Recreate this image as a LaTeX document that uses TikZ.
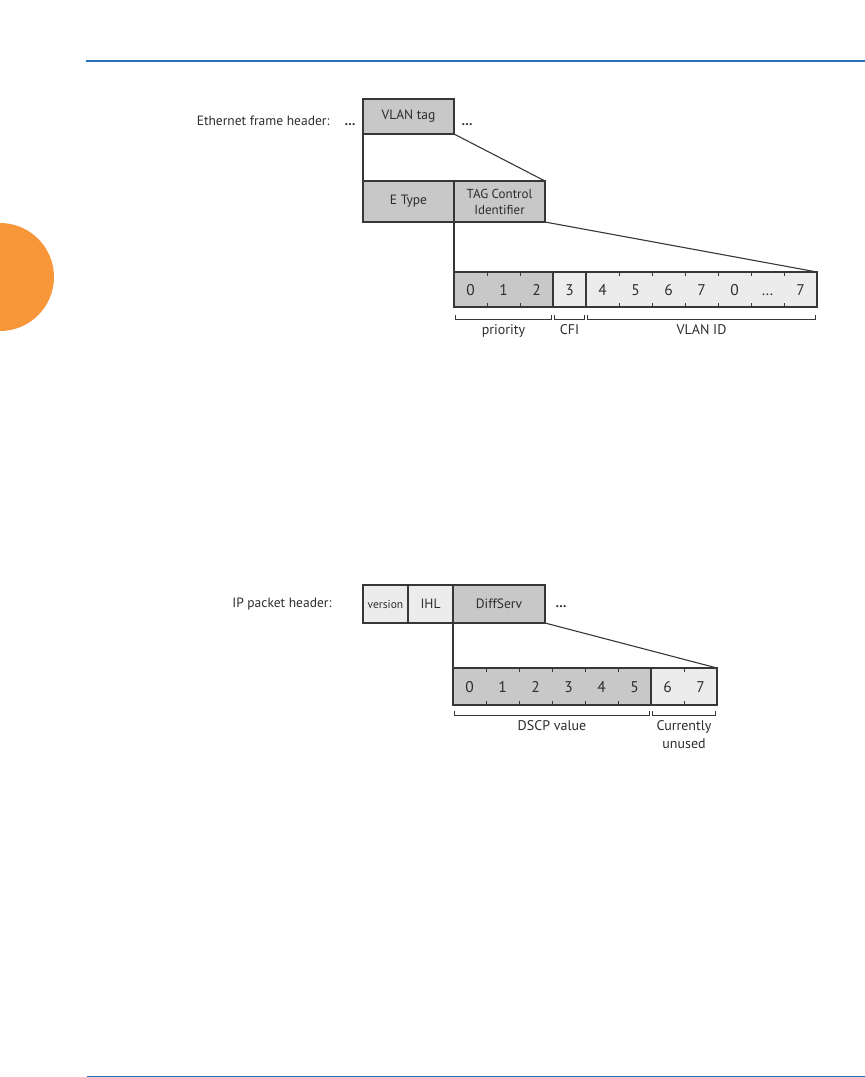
\documentclass[tikz,border=0pt]{standalone}
\usepackage{fontspec}
\setmainfont{PT Sans}
\usetikzlibrary{positioning}
\definecolor{cellgray}{RGB}{200,200,200}
\definecolor{celllight}{RGB}{236,236,236}
\definecolor{edgegray}{RGB}{55,55,55}
\definecolor{textgray}{RGB}{45,45,45}
\definecolor{rulerblue}{RGB}{36,113,184}
\definecolor{taborange}{RGB}{248,150,58}

\begin{document}
\begin{tikzpicture}[x=1pt, y=-1pt,
    font=\fontsize{13.5}{16}\selectfont, text=textgray,
    field/.style={rectangle, draw=edgegray, line width=1.1pt, fill=cellgray, anchor=north west,
                  inner sep=0pt, outer sep=0pt, align=center},
    lightfield/.style={field, fill=celllight},
    bitnum/.style={font=\fontsize{15.5}{18}\selectfont, inner sep=0pt, anchor=base},
    link/.style={edgegray, line width=1.1pt},
    bittick/.style={edgegray, line width=0.8pt},
    bracket/.style={edgegray, line width=0.9pt},
    brlabel/.style={align=center, inner sep=0pt, font=\fontsize{14}{18}\selectfont}
]
\useasboundingbox (0,0) rectangle (865,1077);

% page furniture
\fill[taborange] (0,277) circle (54);
\draw[rulerblue, line width=2pt] (86,61) -- (865,61);
\draw[rulerblue, line width=1pt] (87,1076) -- (865,1076);

% Ethernet frame header
\node[anchor=east] (ethlabel) at (333,121) {Ethernet frame header:};
\node[anchor=base, inner sep=0pt] (ethpre) at ([xshift=17pt]ethlabel.base east) {\textbf{\ldots}};
\node[field, minimum width=91pt, minimum height=35pt] (vlan) at (363,99) {VLAN tag};
\node[anchor=base, inner sep=0pt] (ethpost) at ([xshift=134pt]ethlabel.base east) {\textbf{\ldots}};

\node[field, minimum width=91pt, minimum height=41pt] (etype) at (363,181) {E Type};
\node[field, minimum width=91pt, minimum height=41pt, font=\fontsize{13}{16}\selectfont] (tci) at (454,181) {TAG Control\\Identifier};

\node[field, minimum width=99pt, minimum height=35pt] (prio) at (454,272) {};
\node[lightfield, minimum width=33pt, minimum height=35pt] (cfi) at (553,272) {};
\node[lightfield, minimum width=231pt, minimum height=35pt] (vid) at (586,272) {};

\foreach \b [count=\i from 0] in {0,1,2,3,4,5,6,7,0,\ldots,7}
    \node[bitnum] (eb\i) at ({470.5+33*\i},295) {\b};
\foreach \i in {1,2,5,6,7,8,9,10} {
    \draw[bittick] ({454+33*\i},272) -- ++(0,4);
    \draw[bittick] ({454+33*\i},307) -- ++(0,-4);
}

\draw[link] (vlan.south west) -- (etype.north west);
\draw[link] (vlan.south east) -- (tci.north east);
\draw[link] (tci.south west) -- (prio.north west);
\draw[link] (tci.south east) -- (vid.north east);

\foreach \g/\txt in {prio/priority, cfi/CFI, vid/VLAN ID} {
    \draw[bracket] ([xshift=1.5pt,yshift=-8pt]\g.south west) -- ([xshift=1.5pt,yshift=-12pt]\g.south west)
        -- ([xshift=-1.5pt,yshift=-12pt]\g.south east) -- ([xshift=-1.5pt,yshift=-8pt]\g.south east);
    \node[brlabel, below=17pt of \g] (\g lbl) {\txt};
}

% IP packet header
\node[anchor=east] (iplabel) at (335,604) {IP packet header:};
\node[lightfield, minimum width=45pt, minimum height=38pt, font=\fontsize{11.5}{13}\selectfont] (ver) at (363,585) {version};
\node[lightfield, minimum width=45pt, minimum height=38pt] (ihl) at (408,585) {IHL};
\node[field, minimum width=92pt, minimum height=38pt] (diff) at (453,585) {DiffServ};
\node[anchor=base, inner sep=0pt] (ippost) at ([xshift=226pt]iplabel.base east) {\textbf{\ldots}};

\node[field, minimum width=198pt, minimum height=37pt] (dscp) at (453,668) {};
\node[lightfield, minimum width=66pt, minimum height=37pt] (unused) at (651,668) {};

\foreach \b [count=\i from 0] in {0,...,7}
    \node[bitnum] (ib\i) at ({469.5+33*\i},692) {\b};
\foreach \i in {1,2,3,4,5,7} {
    \draw[bittick] ({453+33*\i},668) -- ++(0,4);
    \draw[bittick] ({453+33*\i},705) -- ++(0,-4);
}

\draw[link] (diff.south west) -- (dscp.north west);
\draw[link] (diff.south east) -- (unused.north east);

\foreach \g/\txt in {dscp/DSCP value, unused/Currently\\unused} {
    \draw[bracket] ([xshift=1.5pt,yshift=-6pt]\g.south west) -- ([xshift=1.5pt,yshift=-10pt]\g.south west)
        -- ([xshift=-1.5pt,yshift=-10pt]\g.south east) -- ([xshift=-1.5pt,yshift=-6pt]\g.south east);
    \node[brlabel, below=15pt of \g] (\g lbl) {\txt};
}
\end{tikzpicture}
\end{document}
